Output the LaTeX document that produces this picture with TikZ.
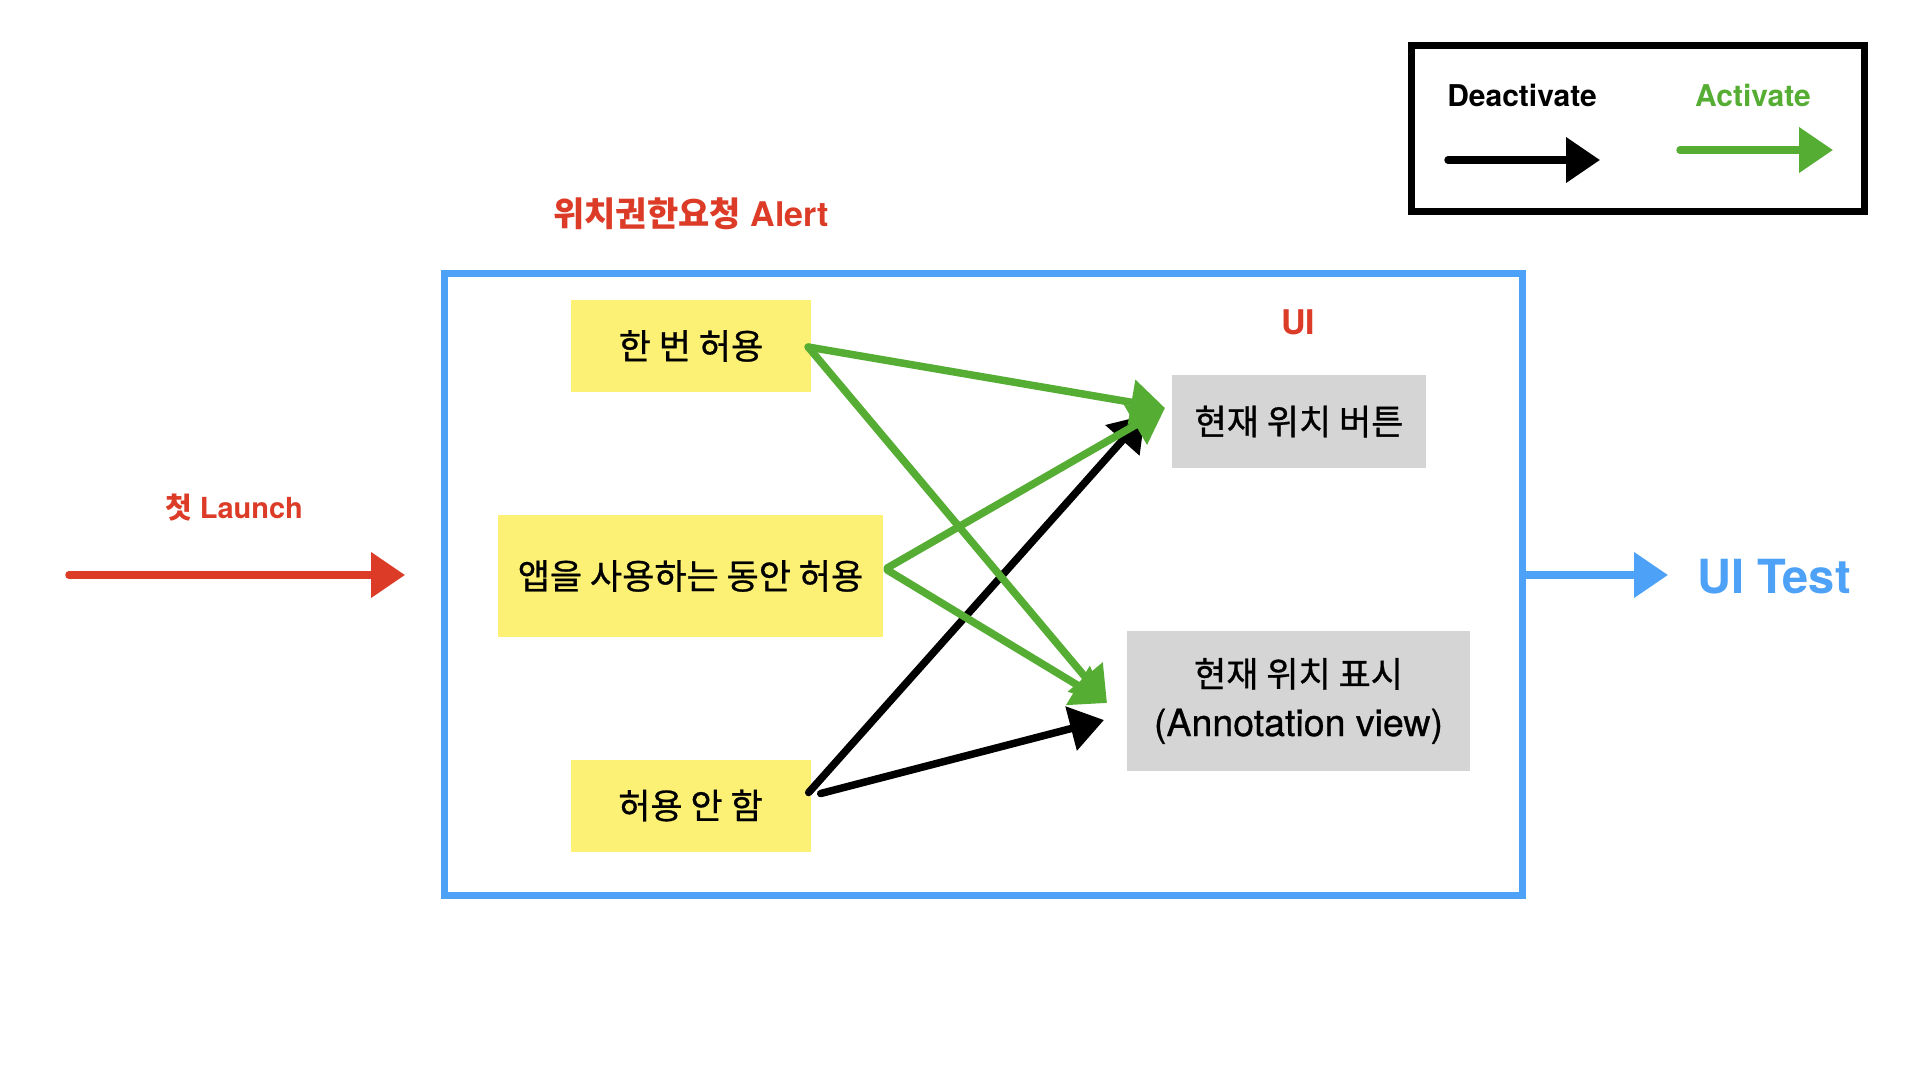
\documentclass[tikz,border=0pt]{standalone}
\usepackage{fontspec}
\setmainfont{TeX Gyre Heros}
\newfontfamily\kr{Noto Sans CJK KR}
\newfontfamily\krm{Noto Sans CJK KR}[FakeBold=0.8]
\newfontfamily\latm{TeX Gyre Heros}[FakeBold=0.8]
\usetikzlibrary{arrows.meta,calc}
\definecolor{kred}{HTML}{DC3C27}
\definecolor{kblue}{HTML}{4DA2F7}
\definecolor{kgreen}{HTML}{55AE33}
\definecolor{kyellow}{HTML}{FCF075}
\definecolor{kgray}{HTML}{D5D5D5}
\begin{document}
\begin{tikzpicture}[x=1pt,y=-1pt,
  ybox/.style={fill=kyellow, inner sep=0pt, align=center, font=\krm\fontsize{35}{40}\selectfont},
  gbox/.style={fill=kgray, inner sep=0pt, align=center, font=\fontsize{35}{49}\selectfont},
  crayon/.style={line width=7.5pt, line cap=round, -{Triangle[length=34pt,width=44pt]}},
  lbl/.style={anchor=base, inner sep=0pt, font=\bfseries\fontsize{#1}{#1}\selectfont},
  frame/.style={draw, line width=7pt, inner sep=0pt, fill=none}
]
\useasboundingbox (0,0) rectangle (1920,1080);
\fill[white] (0,0) rectangle (1920,1080);

% legend
\node[frame, draw=black, minimum width=453pt, minimum height=166pt] (legend) at (1637.5,128.5) {};
\node[lbl=30, text=black] (deact) at (1522,106) {Deactivate};
\node[lbl=30, text=kgreen] (act) at (1753,106) {Activate};
\coordinate (lb1) at (1448,160);
\coordinate (lb2) at (1600,160);
\coordinate (lg1) at (1680,150);
\coordinate (lg2) at (1833,150);
\draw[crayon, black] (lb1) -- (lb2);
\draw[crayon, kgreen] (lg1) -- (lg2);

% main frame
\node[frame, draw=kblue, minimum width=1078pt, minimum height=622pt] (main) at (983,584) {};
\node[lbl=34, text=kred] (title) at (691,226) {{\kr 위치권한요청} Alert};
\node[lbl=34, text=kred] (uilbl) at (1298,334) {UI};

% option boxes
\node[ybox, minimum width=240pt, minimum height=92pt] (y1) at (691,346) {한 번 허용};
\node[ybox, minimum width=385pt, minimum height=122pt] (y2) at (690.5,576) {앱을 사용하는 동안 허용};
\node[ybox, minimum width=240pt, minimum height=92pt] (y3) at (690.5,805.5) {허용 안 함};

% UI boxes
\node[gbox, minimum width=254pt, minimum height=93pt, font=\krm\fontsize{35}{40}\selectfont] (g1) at (1299,421.5) {현재 위치 버튼};
\node[gbox, minimum width=343pt, minimum height=140pt] (g2) at (1298.5,701) {{\krm 현재 위치 표시}\\{\latm\fontsize{37.5}{49}\selectfont (Annotation view)}};

% arrow targets
\coordinate (t1) at (1165,408);
\coordinate (t2) at (1107,703);
\coordinate (t3) at (1145,415);
\coordinate (t4) at (1104,720);

\draw[crayon, black] ($(y3.east)+(-2,-13)$) -- (t3);
\draw[crayon, black] ($(y3.east)+(10,-12)$) -- (t4);
\draw[crayon, kgreen] ($(y1.east)+(-3,1)$) -- (t1);
\draw[crayon, kgreen] ($(y1.east)+(-3,1)$) -- (t2);
\draw[crayon, kgreen] ($(y2.east)+(4,-8)$) -- (t1);
\draw[crayon, kgreen] ($(y2.east)+(4,-6)$) -- (t2);

% launch arrow
\node[lbl=29, text=kred] (launch) at (234,518) {{\kr 첫} Launch};
\coordinate (la1) at (69,575);
\coordinate (la2) at (405,575);
\draw[crayon, kred] (la1) -- (la2);

% UI test arrow
\coordinate (ut) at (1668,575);
\draw[crayon, kblue] ($(main.east)+(0,-9)$) -- (ut);
\node[lbl=47, text=kblue] (uitest) at (1774,593) {UI Test};
\end{tikzpicture}
\end{document}
